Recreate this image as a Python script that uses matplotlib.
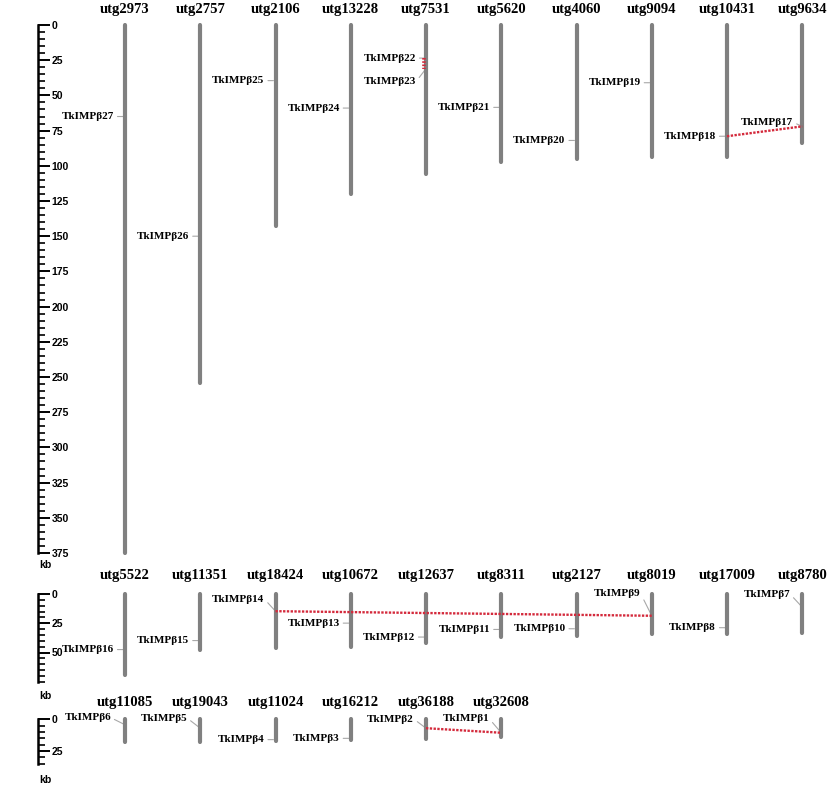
import matplotlib
matplotlib.use('Agg')
import matplotlib.pyplot as plt
import matplotlib.transforms as mtransforms

# ---- data: contigs (kb) and gene positions (kb) for each row ----
row1_contigs = ['utg2973', 'utg2757', 'utg2106', 'utg13228', 'utg7531',
                'utg5620', 'utg4060', 'utg9094', 'utg10431', 'utg9634']
row1_lengths = [375, 254, 143, 120, 106, 97, 95, 94, 94, 84]
row1_genes = ['TkIMPβ27', 'TkIMPβ26', 'TkIMPβ25', 'TkIMPβ24', 'TkIMPβ22',
              'TkIMPβ23', 'TkIMPβ21', 'TkIMPβ20', 'TkIMPβ19', 'TkIMPβ18',
              'TkIMPβ17']
row1_gene_contig = [0, 1, 2, 3, 4, 4, 5, 6, 7, 8, 9]
row1_gene_kb = [65, 150, 39.5, 59, 23.5, 31, 58.5, 82, 41, 79, 72]

row2_contigs = ['utg5522', 'utg11351', 'utg18424', 'utg10672', 'utg12637',
                'utg8311', 'utg2127', 'utg8019', 'utg17009', 'utg8780']
row2_lengths = [69, 48, 46, 45, 41.5, 37, 35.5, 34.5, 34.5, 33]
row2_genes = ['TkIMPβ16', 'TkIMPβ15', 'TkIMPβ14', 'TkIMPβ13', 'TkIMPβ12',
              'TkIMPβ11', 'TkIMPβ10', 'TkIMPβ9', 'TkIMPβ8', 'TkIMPβ7']
row2_gene_contig = [0, 1, 2, 3, 4, 5, 6, 7, 8, 9]
row2_gene_kb = [47.5, 39.8, 14.7, 24.9, 36.8, 30.3, 29.7, 18.6, 28.8, 11.3]

row3_contigs = ['utg11085', 'utg19043', 'utg11024', 'utg16212', 'utg36188',
                'utg32608']
row3_lengths = [18, 18, 17, 16.5, 15.5, 14.2]
row3_genes = ['TkIMPβ6', 'TkIMPβ5', 'TkIMPβ4', 'TkIMPβ3', 'TkIMPβ2', 'TkIMPβ1']
row3_gene_contig = [0, 1, 2, 3, 4, 5]
row3_gene_kb = [4.3, 7, 16, 15, 7, 10.6]

# duplicated gene pairs
row1_links = [('TkIMPβ22', 'TkIMPβ23'), ('TkIMPβ18', 'TkIMPβ17')]
row2_links = [('TkIMPβ14', 'TkIMPβ9')]
row3_links = [('TkIMPβ2', 'TkIMPβ1')]

# scale bars
row1_scale_max, row1_scale_labels = 375, list(range(0, 376, 25))
row2_scale_max, row2_scale_labels = 75, [0, 25, 50]
row3_scale_max, row3_scale_labels = 35, [0, 25]

# ---- layout (pixels) ----
W, H = 832, 808
X0, DX, SPINE_X = 125, 75.25, 38
label_offset = {  # pixel offset of a gene label from its locus
    'TkIMPβ17': (-9, 4), 'TkIMPβ22': (-10, 0), 'TkIMPβ23': (-10, -13),
    'TkIMPβ14': (-11, 12), 'TkIMPβ9': (-11, 22), 'TkIMPβ7': (-12, 13),
    'TkIMPβ6': (-14, 7), 'TkIMPβ5': (-13, 10), 'TkIMPβ2': (-12, 9),
    'TkIMPβ1': (-12, 14),
}
SERIF = 'Liberation Serif'
SANS = 'Liberation Sans'
BAR = '#808080'
LINK = '#d42a3c'

fig = plt.figure(figsize=(W / 100, H / 100), dpi=100)


def panel(zero_px, px_per_kb, kb_min, kb_max):
    top = zero_px + kb_min * px_per_kb
    bottom = zero_px + kb_max * px_per_kb
    ax = fig.add_axes([SPINE_X / W, 1 - bottom / H, (W - SPINE_X) / W,
                       (bottom - top) / H])
    ax.set_xlim((SPINE_X - X0) / DX, (W - X0) / DX)
    ax.set_ylim(kb_max, kb_min)
    ax.patch.set_visible(False)
    for s in ['top', 'right', 'bottom']:
        ax.spines[s].set_visible(False)
    ax.set_xticks([])
    return ax


def draw_row(ax, contigs, lengths, genes, gene_contig, gene_kb, links,
             scale_max, scale_labels, name_dy, kb_dy):
    # scale bar on the left spine
    ax.spines['left'].set_bounds(0, scale_max)
    ax.spines['left'].set_linewidth(1.8)
    ax.set_yticks(scale_labels, [str(v) for v in scale_labels],
                  fontweight='bold', family=SANS, ha='left')
    ax.set_yticks(list(range(0, scale_max + 1, 5)), minor=True)
    ax.tick_params(axis='y', which='major', direction='in', length=8.6,
                   width=1.4, pad=-9.9, labelsize=7.5)
    ax.tick_params(axis='y', which='minor', direction='in', length=5.3,
                   width=1.2)
    ax.annotate('kb', xy=(0, scale_max), xycoords=('axes fraction', 'data'),
                xytext=(7, kb_dy), textcoords='offset pixels', ha='center',
                va='center', fontsize=7.5, fontweight='bold', family=SANS,
                annotation_clip=False)

    for i, (name, length) in enumerate(zip(contigs, lengths)):
        ax.plot([i, i], [0, length], color=BAR, lw=3, solid_capstyle='round',
                zorder=2)
        ax.annotate(name, xy=(i, 0), xytext=(0, name_dy),
                    textcoords='offset pixels', ha='center', va='center',
                    fontsize=10.5, fontweight='bold', family=SERIF,
                    annotation_clip=False)

    for g, c, kb in zip(genes, gene_contig, gene_kb):
        dx, dy = label_offset.get(g, (-11, 0))
        ax.annotate(g, xy=(c, kb), xytext=(dx, dy), textcoords='offset pixels',
                    ha='right', va='center', fontsize=8, fontweight='bold',
                    family=SERIF, zorder=1,
                    arrowprops=dict(arrowstyle='-', color='#a8a8a8', lw=0.8,
                                    shrinkA=0.5, shrinkB=1.5, relpos=(1, 0.5)))

    pos = {g: (c, kb) for g, c, kb in zip(genes, gene_contig, gene_kb)}
    for a, b in links:
        (ca, ka), (cb, kb) = pos[a], pos[b]
        if ca == cb:
            tr = mtransforms.offset_copy(ax.transData, fig, x=-2, units='dots')
            ax.plot([ca, cb], [ka, kb], color=LINK, lw=2.6,
                    ls=(0, (0.45, 0.45)), transform=tr, zorder=3)
        else:
            ax.plot([ca, cb], [ka, kb], color=LINK, lw=1.7,
                    ls=(0, (1, 0.6)), zorder=3)


ax1 = panel(25, 1.408, -5, 380)
draw_row(ax1, row1_contigs, row1_lengths, row1_genes, row1_gene_contig,
         row1_gene_kb, row1_links, row1_scale_max, row1_scale_labels, 16, -12)

ax2 = panel(594, 1.17, -3, 80)
draw_row(ax2, row2_contigs, row2_lengths, row2_genes, row2_gene_contig,
         row2_gene_kb, row2_links, row2_scale_max, row2_scale_labels, 18, -14)

ax3 = panel(719.3, 1.27, -3, 38)
draw_row(ax3, row3_contigs, row3_lengths, row3_genes, row3_gene_contig,
         row3_gene_kb, row3_links, row3_scale_max, row3_scale_labels, 17, -16)

fig.savefig('out.png', dpi=100)
